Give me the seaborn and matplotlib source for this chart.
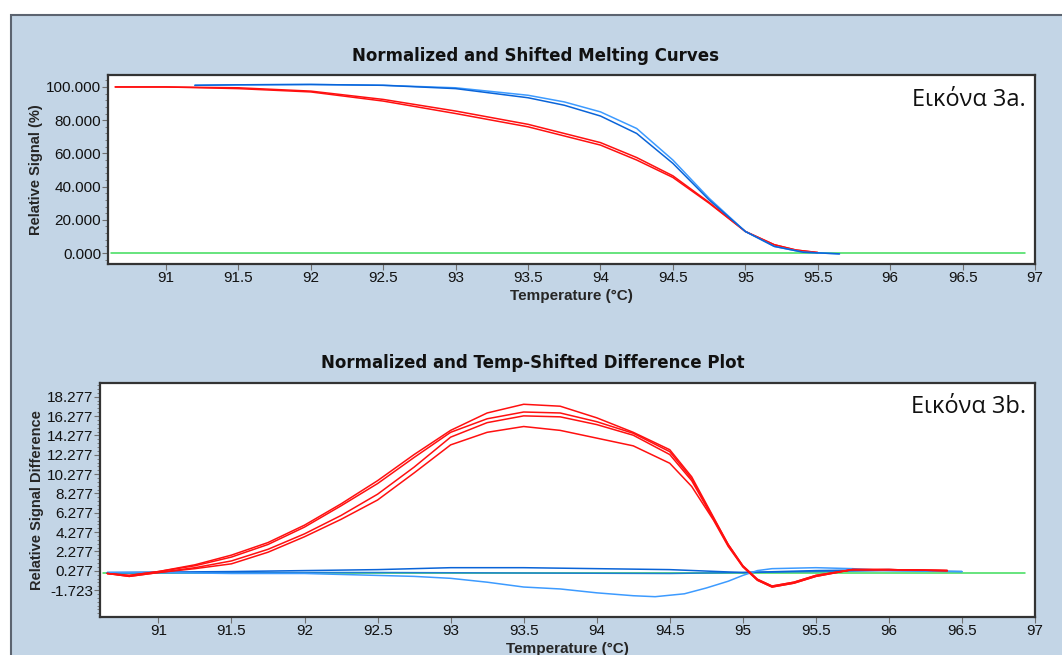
import matplotlib
matplotlib.use("Agg")
import matplotlib.pyplot as plt
from matplotlib.patches import Rectangle
from matplotlib.ticker import MultipleLocator, FixedLocator, FormatStrFormatter
import numpy as np
import pandas as pd
import seaborn as sns

# --- top panel: normalized melting curves ---
melt_temp_red = [90.65, 91.0, 91.5, 92.0, 92.5, 93.0, 93.5, 94.0, 94.25, 94.5, 94.75, 95.0, 95.2, 95.35, 95.5]
melt_red_a = [100, 100, 99.5, 97.5, 92.5, 85.5, 77.5, 66.5, 57.5, 46.5, 30.5, 13.0, 5.0, 1.8, 0.3]
melt_red_b = [100, 100, 99.0, 97.0, 91.5, 84.0, 76.0, 65.0, 56.0, 45.5, 30.0, 13.0, 5.0, 1.8, 0.3]

melt_temp_blue = [91.2, 91.5, 92.0, 92.5, 93.0, 93.5, 93.75, 94.0, 94.25, 94.5, 94.75, 95.0, 95.2, 95.4, 95.65]
melt_blue_a = [101, 101.3, 101.5, 101.0, 99.5, 95.0, 91.0, 85.0, 75.0, 56.0, 33.0, 13.0, 4.0, 0.5, -0.5]
melt_blue_b = [101, 101.3, 101.5, 101.0, 99.0, 93.5, 89.0, 82.5, 72.0, 54.0, 32.0, 13.0, 4.0, 0.5, -0.5]

melt_temp_green = [90.62, 96.93]
melt_green = [0, 0]

# --- bottom panel: difference plot ---
diff_temp_red = [90.65, 90.8, 91.0, 91.25, 91.5, 91.75, 92.0, 92.25, 92.5, 92.75, 93.0, 93.25, 93.5,
                 93.75, 94.0, 94.25, 94.5, 94.65, 94.8, 94.9, 95.0, 95.1, 95.2, 95.35, 95.5, 95.75, 96.0, 96.4]
diff_red_1 = [0.0, -0.2, 0.2, 0.9, 1.9, 3.2, 5.0, 7.2, 9.6, 12.3, 14.8, 16.6, 17.5,
              17.3, 16.1, 14.6, 12.8, 10.0, 5.8, 3.0, 0.8, -0.6, -1.3, -0.9, -0.2, 0.4, 0.4, 0.3]
diff_red_2 = [0.0, -0.2, 0.2, 0.8, 1.7, 3.0, 4.8, 7.0, 9.3, 12.0, 14.6, 16.0, 16.7,
              16.6, 15.7, 14.5, 12.6, 9.8, 5.7, 3.0, 0.8, -0.6, -1.3, -0.9, -0.2, 0.4, 0.4, 0.3]
diff_red_3 = [0.0, -0.3, 0.1, 0.6, 1.3, 2.5, 4.1, 6.0, 8.2, 11.0, 14.1, 15.6, 16.3,
              16.2, 15.4, 14.3, 12.3, 9.6, 5.6, 2.9, 0.7, -0.7, -1.4, -1.0, -0.3, 0.4, 0.4, 0.3]
diff_red_4 = [0.0, -0.3, 0.1, 0.5, 1.0, 2.2, 3.8, 5.6, 7.6, 10.4, 13.3, 14.6, 15.2,
              14.8, 14.0, 13.2, 11.4, 9.0, 5.5, 2.8, 0.7, -0.7, -1.4, -1.0, -0.3, 0.4, 0.4, 0.3]

diff_temp_blue_dip = [90.65, 91.0, 91.5, 92.0, 92.25, 92.5, 92.75, 93.0, 93.25, 93.5, 93.75, 94.0,
                      94.25, 94.4, 94.6, 94.75, 94.9, 95.0, 95.1, 95.2, 95.5, 95.75, 96.0, 96.5]
diff_blue_dip = [0.1, 0.1, 0.0, 0.0, -0.1, -0.2, -0.3, -0.5, -0.9, -1.4, -1.6, -2.0,
                 -2.3, -2.4, -2.1, -1.5, -0.8, -0.2, 0.3, 0.5, 0.6, 0.5, 0.3, 0.2]

diff_temp_blue_up = [90.65, 91.5, 92.0, 92.5, 93.0, 93.5, 94.0, 94.5, 95.0, 95.5, 96.0, 96.25]
diff_blue_up = [0.1, 0.2, 0.3, 0.4, 0.6, 0.6, 0.5, 0.4, 0.1, 0.3, 0.4, 0.3]

diff_temp_blue_flat = [90.65, 91.5, 92.5, 93.5, 94.5, 95.0, 95.5, 96.0, 96.5]
diff_blue_flat = [0.05, 0.1, 0.1, 0.05, 0.0, 0.1, 0.2, 0.3, 0.2]

diff_temp_green = [90.62, 96.93]
diff_green = [0, 0]

RED = "#ff1010"
BLUE_LT = "#3d9bff"
BLUE_DK = "#0a64d8"
GREEN = "#3ddc5a"
BG = "#c3d5e6"


def long_form(pieces):
    frames = []
    for name, xs, ys in pieces:
        frames.append(pd.DataFrame({"temp": xs, "value": ys, "curve": name}))
    return pd.concat(frames, ignore_index=True)


melt_df = long_form([
    ("green", melt_temp_green, melt_green),
    ("red_a", melt_temp_red, melt_red_a),
    ("red_b", melt_temp_red, melt_red_b),
    ("blue_a", melt_temp_blue, melt_blue_a),
    ("blue_b", melt_temp_blue, melt_blue_b),
])
melt_pal = {"green": GREEN, "red_a": RED, "red_b": RED, "blue_a": BLUE_LT, "blue_b": BLUE_DK}

diff_df = long_form([
    ("green", diff_temp_green, diff_green),
    ("blue_flat", diff_temp_blue_flat, diff_blue_flat),
    ("blue_up", diff_temp_blue_up, diff_blue_up),
    ("blue_dip", diff_temp_blue_dip, diff_blue_dip),
    ("red_1", diff_temp_red, diff_red_1),
    ("red_2", diff_temp_red, diff_red_2),
    ("red_3", diff_temp_red, diff_red_3),
    ("red_4", diff_temp_red, diff_red_4),
])
diff_pal = {"green": GREEN, "blue_flat": "#1f7fd0", "blue_up": BLUE_DK, "blue_dip": BLUE_LT,
            "red_1": RED, "red_2": RED, "red_3": RED, "red_4": RED}

sns.set_theme(style="white")
plt.rcParams["font.family"] = ["Liberation Sans", "DejaVu Sans"]

fig = plt.figure(figsize=(10.62, 6.55), dpi=100, facecolor="white")
fig.patches.append(Rectangle((11 / 1062, -0.01), 1.0, 1 - 15 / 655 + 0.01, transform=fig.transFigure,
                             facecolor=BG, edgecolor="#5c6470", linewidth=1.5, zorder=-10))

ax1 = fig.add_axes([108 / 1062, 1 - 264 / 655, (1035 - 108) / 1062, (264 - 75) / 655])
ax2 = fig.add_axes([100 / 1062, 1 - 617 / 655, (1035 - 100) / 1062, (617 - 383) / 655])

sns.lineplot(data=melt_df, x="temp", y="value", hue="curve", palette=melt_pal, units="curve",
             estimator=None, sort=False, linewidth=1.1, legend=False, ax=ax1)
sns.lineplot(data=diff_df, x="temp", y="value", hue="curve", palette=diff_pal, units="curve",
             estimator=None, sort=False, linewidth=1.1, legend=False, ax=ax2)

ax1.set_xlim(90.6, 97.0)
ax1.set_ylim(-6.6, 107.2)
ax1.yaxis.set_major_locator(MultipleLocator(20))
ax1.yaxis.set_minor_locator(MultipleLocator(4))
ax1.yaxis.set_major_formatter(FormatStrFormatter("%.3f"))

ax2.set_xlim(90.6, 97.0)
ax2.set_ylim(-4.5, 19.7)
diff_ticks = [-1.723, 0.277, 2.277, 4.277, 6.277, 8.277, 10.277, 12.277, 14.277, 16.277, 18.277]
ax2.yaxis.set_major_locator(FixedLocator(diff_ticks))
ax2.yaxis.set_minor_locator(FixedLocator(np.arange(-4.123, 19.6, 0.4)))
ax2.yaxis.set_major_formatter(FormatStrFormatter("%.3f"))

for ax in (ax1, ax2):
    ax.set_facecolor("white")
    ax.xaxis.set_major_locator(MultipleLocator(0.5))
    ax.xaxis.set_major_formatter(plt.FuncFormatter(lambda v, p: f"{v:g}"))
    ax.tick_params(axis="both", which="major", direction="out", length=4, width=0.8,
                   color="#707070", labelsize=11, labelcolor="#111111", pad=1,
                   bottom=True, left=True)
    ax.tick_params(axis="y", which="minor", direction="out", length=2.5, width=0.6,
                   color="#707070", left=True)
    for side, sp in ax.spines.items():
        sp.set_visible(True)
        sp.set_color("#333333")
        sp.set_linewidth(1.6)
    ax.set_xlabel("Temperature (°C)", fontsize=11, fontweight="bold", labelpad=3)

ax1.set_ylabel("Relative Signal (%)", fontsize=10.5, fontweight="bold", labelpad=2)
ax2.set_ylabel("Relative Signal Difference", fontsize=10.5, fontweight="bold", labelpad=2)

fig.text(535 / 1062, 1 - 56 / 655, "Normalized and Shifted Melting Curves", ha="center", va="center",
         fontsize=12, fontweight="bold", family="DejaVu Sans", color="#111111")
fig.text(533 / 1062, 1 - 363 / 655, "Normalized and Temp-Shifted Difference Plot", ha="center", va="center",
         fontsize=12, fontweight="bold", family="DejaVu Sans", color="#111111")

ax1.text(0.99, 0.868, "Εικόνα 3a.", transform=ax1.transAxes, ha="right", va="center",
         fontsize=17, family=["Open Sans", "DejaVu Sans"], color="#111111")
ax2.text(0.99, 0.897, "Εικόνα 3b.", transform=ax2.transAxes, ha="right", va="center",
         fontsize=17, family=["Open Sans", "DejaVu Sans"], color="#111111")

fig.savefig("out.png", dpi=100, facecolor=fig.get_facecolor())
